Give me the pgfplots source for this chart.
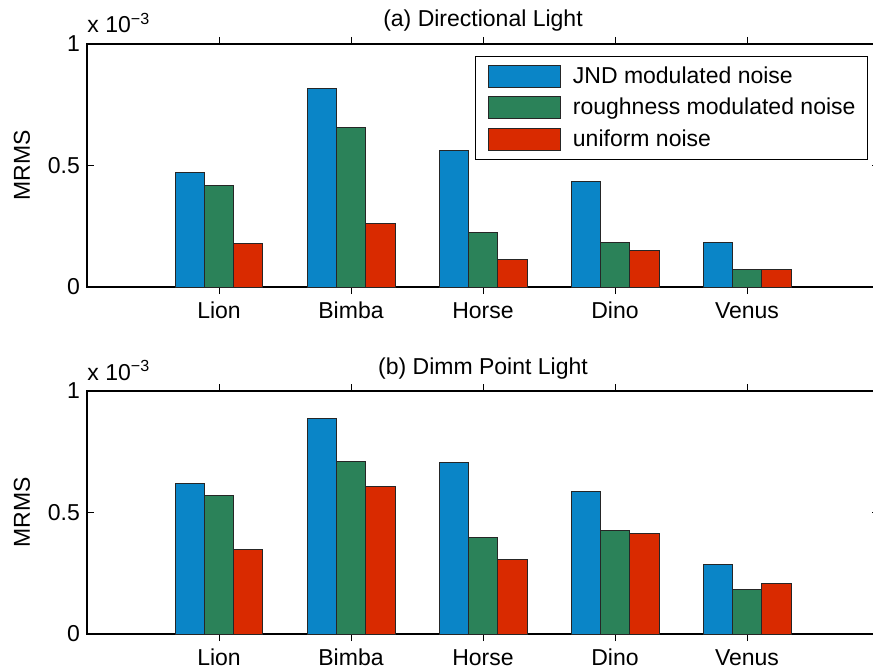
\documentclass[border=0pt]{standalone}
\usepackage{fontspec}
\setmainfont{Liberation Sans}
\usepackage{pgfplots}
\pgfplotsset{compat=1.18}
\definecolor{cblue}{RGB}{10,133,199}
\definecolor{cgreen}{RGB}{43,130,89}
\definecolor{cred}{RGB}{217,42,0}
\newcommand{\fs}{\fontsize{11.5}{13.5}\selectfont}
\pgfplotsset{
  myleg/.style={legend image code/.code={\path (-2pt,0) (40pt,0); \draw[##1] (0pt,-5.5pt) rectangle (36pt,5.5pt);}},
  mystyle/.style={
    scale only axis, width=396pt, height=121.5pt,
    xmin=0, xmax=6, ymin=0, ymax=1,
    xtick={1,2,3,4,5}, xticklabels={Lion,Bimba,Horse,Dino,Venus},
    ytick={0,0.5,1},
    tick align=inside, major tick length=3.5pt,
    axis line style={line width=0.6pt},
    every tick/.style={black, line width=0.5pt},
    font=\fs,
    tick label style={font=\fs},
    xticklabel style={text height=8.5pt, text depth=2.5pt},
    /pgf/number format/assume math mode=true,
    ylabel={MRMS},
    every axis y label/.style={at={(rel axis cs:0,0.5)}, xshift=-32.5pt, rotate=90, anchor=center, font=\fs},
    title style={at={(0.5,1)}, anchor=base, yshift=2.5pt, font=\fs},
    ybar, bar width=0.2222,
    extra description/.code={\node[anchor=base west, inner sep=0pt, font=\fs] at (0,1) [yshift=5.5pt] {x 10\textsuperscript{−3}};},
  },
  barstyle/.style={draw=black!85, line width=0.5pt},
}
\begin{document}
\begin{tikzpicture}
\begin{axis}[mystyle, name=top,
  title={(a) Directional Light},
  legend style={at={(1,1)}, anchor=north east, xshift=-5.5pt, yshift=-6pt, draw=black, line width=0.5pt,
    font=\fs, inner xsep=4pt, inner ysep=3pt, row sep=2pt, cells={anchor=west}},
  legend cell align=left,
]
\addplot[barstyle, fill=cblue, bar shift=-0.2222, myleg] coordinates {(1,0.470) (2,0.817) (3,0.563) (4,0.435) (5,0.183)};
\addplot[barstyle, fill=cgreen, bar shift=0, myleg] coordinates {(1,0.418) (2,0.657) (3,0.224) (4,0.183) (5,0.072)};
\addplot[barstyle, fill=cred, bar shift=0.2222, myleg] coordinates {(1,0.179) (2,0.262) (3,0.113) (4,0.151) (5,0.074)};
\legend{JND modulated noise, roughness modulated noise, uniform noise}
\end{axis}
\begin{axis}[mystyle, at={(0,-173.5pt)}, name=bot,
  title={(b) Dimm Point Light},
]
\addplot[barstyle, fill=cblue, bar shift=-0.2222] coordinates {(1,0.619) (2,0.886) (3,0.704) (4,0.587) (5,0.288)};
\addplot[barstyle, fill=cgreen, bar shift=0] coordinates {(1,0.572) (2,0.711) (3,0.399) (4,0.424) (5,0.185)};
\addplot[barstyle, fill=cred, bar shift=0.2222] coordinates {(1,0.349) (2,0.609) (3,0.305) (4,0.414) (5,0.209)};
\end{axis}
\pgfresetboundingbox
\path[use as bounding box] ([xshift=-43.5pt,yshift=22pt]top.north west) rectangle ([xshift=-3pt,yshift=-17pt]bot.south east);
\end{tikzpicture}
\end{document}
